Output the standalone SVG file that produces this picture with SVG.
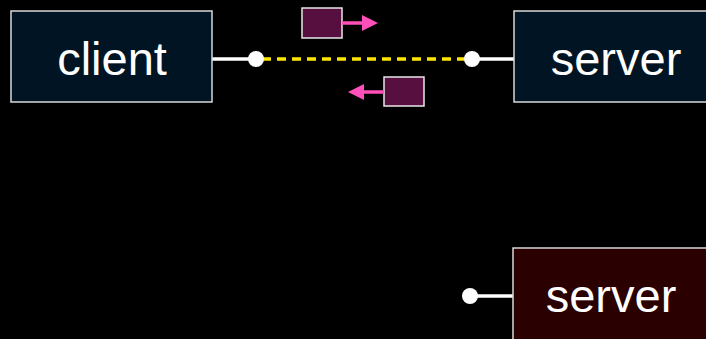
<svg xmlns="http://www.w3.org/2000/svg" width="706" height="339" viewBox="0 0 706 339">
<style>
.box{stroke:#d8d8d8;stroke-width:1.5}
.lbl{font-family:"Helvetica Neue","Liberation Sans",Arial,sans-serif;font-size:47px;fill:#ffffff;text-anchor:middle}
.wire{stroke:#ffffff;stroke-width:3.5;fill:none}
.dot{fill:#ffffff}
.pkt{fill:#560f3e;stroke:#e8e8e8;stroke-width:1.5}
.parrow{stroke:#ff4fb8;stroke-width:3.5;fill:none}
.phead{fill:#ff4fb8}
</style>
<rect width="706" height="339" fill="#000000"/>
<g id="connectors">
<line class="wire" x1="212" y1="59" x2="256" y2="59"/>
<line x1="262" y1="59" x2="467" y2="59" stroke="#ffe600" stroke-width="3.5" stroke-dasharray="9,6"/>
<line class="wire" x1="472" y1="59" x2="514" y2="59"/>
<circle class="dot" cx="256" cy="59" r="8"/>
<circle class="dot" cx="472" cy="59" r="8"/>
<line class="wire" x1="470" y1="296" x2="513" y2="296"/>
<circle class="dot" cx="470" cy="296" r="8"/>
</g>
<g id="client">
<rect class="box" x="11" y="11" width="201" height="91" fill="#011423"/>
<text class="lbl" x="112" y="75">client</text>
</g>
<g id="server">
<rect class="box" x="514" y="11" width="200" height="91" fill="#011423"/>
<text class="lbl" x="616" y="75">server</text>
</g>
<g id="server2">
<rect class="box" x="513" y="248" width="200" height="100" fill="#2a0000"/>
<text class="lbl" x="611" y="312">server</text>
</g>
<g id="packet1">
<rect class="pkt" x="302" y="8" width="40" height="30"/>
<line class="parrow" x1="342" y1="23" x2="364" y2="23"/>
<polygon class="phead" points="362,15 378,23 362,31"/>
</g>
<g id="packet2">
<rect class="pkt" x="384" y="77" width="40" height="29"/>
<line class="parrow" x1="384" y1="92" x2="362" y2="92"/>
<polygon class="phead" points="364,84 348,92 364,100"/>
</g>
</svg>
